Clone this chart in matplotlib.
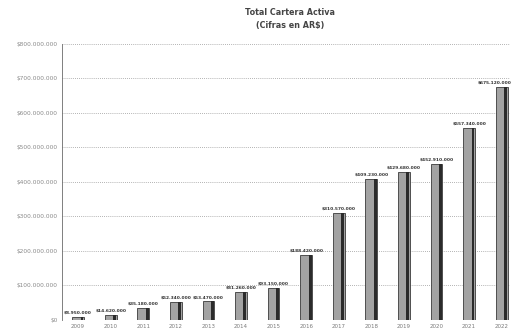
import matplotlib.pyplot as plt
import numpy as np

# cartera activa por año (en pesos)
years = ['2009', '2010', '2011', '2012', '2013', '2014', '2015',
         '2016', '2017', '2018', '2019', '2020', '2021', '2022']
cartera = [8_950_000, 14_620_000, 35_180_000, 52_340_000, 53_470_000,
           81_260_000, 93_150_000, 188_420_000, 310_570_000, 409_230_000,
           429_680_000, 452_910_000, 557_340_000, 675_120_000]
yticks = [0, 100_000_000, 200_000_000, 300_000_000, 400_000_000,
          500_000_000, 600_000_000, 700_000_000, 800_000_000]


def pesos(v):
    return '$' + f'{v:,.0f}'.replace(',', '.')


fig = plt.figure(figsize=(5.15, 3.35), dpi=100)
ax = fig.add_axes([0.120, 0.045, 0.870, 0.824])

x = np.arange(len(years))
ax.bar(x, cartera, width=0.36, color='#a3a3a3', edgecolor='#3a3a3a',
       linewidth=0.6, zorder=3)
# sombra oscura del lado derecho de cada barra
ax.bar(x + 0.12, cartera, width=0.09, color='#2b2b2b', linewidth=0, zorder=4)

for xi, v in zip(x, cartera):
    # la última etiqueta se alinea a la derecha para no salirse del borde
    if xi == x[-1]:
        ax.text(xi + 0.3, v + 6_000_000, pesos(v), ha='right', va='bottom',
                fontsize=3.2, fontweight='bold', color='#333333', zorder=5)
    else:
        ax.text(xi, v + 6_000_000, pesos(v), ha='center', va='bottom',
                fontsize=3.2, fontweight='bold', color='#333333', zorder=5)

ax.set_xlim(-0.5, 13.25)
ax.set_ylim(0, 800_000_000)
ax.set_yticks(yticks)
ax.set_yticklabels([pesos(v) for v in yticks], fontsize=4.2, color='#8a8a8a')
ax.set_xticks(x)
ax.set_xticklabels(years, fontsize=4, color='#7a7a7a')
ax.tick_params(axis='both', length=0, pad=3)

ax.grid(axis='y', linestyle=(0, (1, 1.5)), color='#9a9a9a', linewidth=0.6, zorder=0)
for side in ['top', 'right', 'bottom']:
    ax.spines[side].set_visible(False)
ax.spines['left'].set_color('#6a6a6a')
ax.spines['left'].set_linewidth(0.6)

fig.text(0.563, 0.963, 'Total Cartera Activa', ha='center', va='center',
         fontsize=5.8, fontweight='bold', color='#444444')
fig.text(0.563, 0.925, '(Cifras en AR$)', ha='center', va='center',
         fontsize=5.8, fontweight='bold', color='#444444')

fig.savefig('out.png', dpi=100)
